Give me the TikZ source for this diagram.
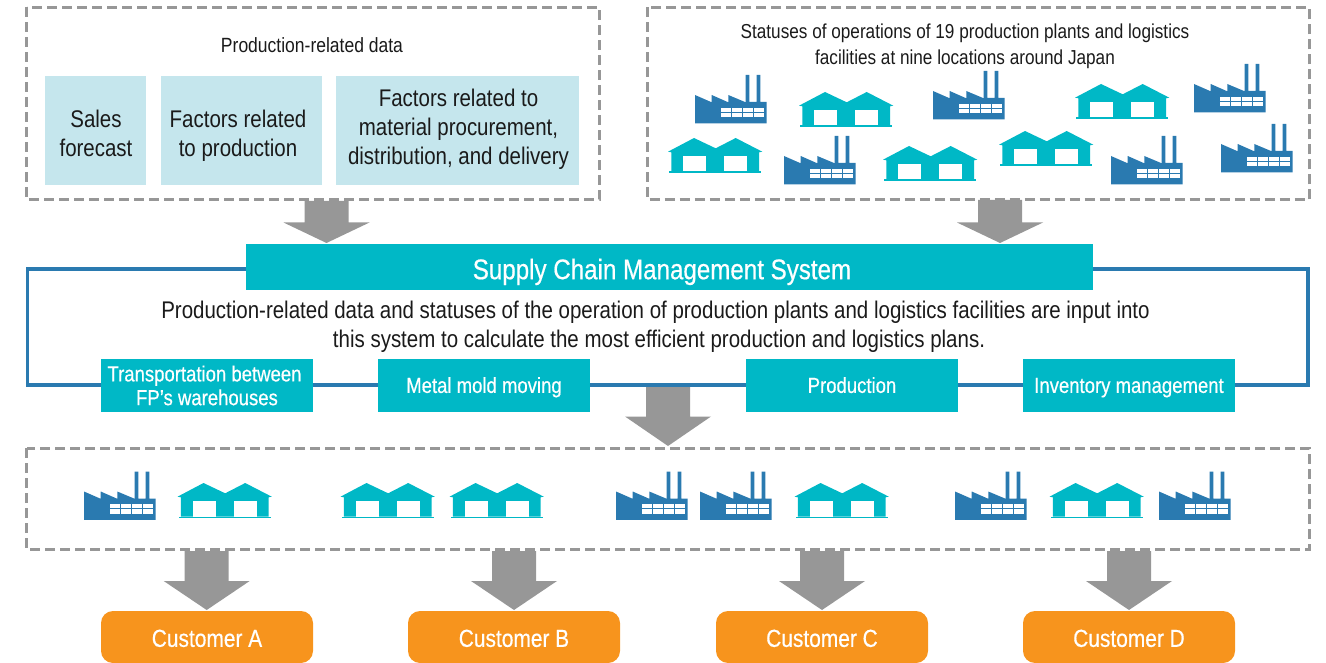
\documentclass[tikz,border=0pt]{standalone}
\usepackage{fontspec}
\setmainfont[FakeStretch=0.85]{Liberation Sans}
\newfontfamily\medfont[FakeStretch=0.85,FakeBold=0.5]{Liberation Sans}
\definecolor{teal}{HTML}{00B8C6}
\definecolor{fblue}{HTML}{2A7AB0}
\definecolor{lblue}{HTML}{C5E6ED}
\definecolor{agrey}{HTML}{979797}
\definecolor{orng}{HTML}{F7941D}
\definecolor{ink}{HTML}{1A1A1A}
\newcommand{\fs}[1]{\fontsize{#1}{#1}\selectfont}
\tikzset{
 x=1pt,y=-1pt,
 dashbox/.style={draw=agrey,line width=3pt,dash pattern=on 10pt off 5pt},
 lightbox/.style={fill=lblue,inner sep=0pt},
 lighttext/.style={align=center,text=ink,inner sep=0pt,font=\fs{24.1}},
 tealbox/.style={fill=teal,inner sep=0pt,align=center,text=white,font=\medfont\fs{21.8},minimum width=212pt,minimum height=53pt},
 tealone/.style={tealbox,text height=14.8pt,text depth=0pt},
 custbox/.style={fill=orng,rounded corners=12pt,inner sep=0pt,align=center,text=white,font=\medfont\fs{24.6},minimum width=212pt,minimum height=52pt,text height=19.7pt,text depth=0pt},
 caption/.style={align=center,text=ink,inner sep=0pt},
 pics/factory/.style={code={
  \fill[fblue] (0,20)--(16.7,27.3)--(16.7,20)--(33.3,27.3)--(33.3,20)--(50.7,27.3)--(50.7,0)--(54.3,0)--(54.3,27)--(61.7,27)--(61.7,0)--(65.3,0)--(65.3,27)--(71.7,27)--(71.7,48.3)--(0,48.3)--cycle;
  \foreach \wx in {25.7,36.7,47.7,58.7}{
    \fill[white] (\wx,32.7) rectangle ++(10,4);
    \fill[white] (\wx,37.7) rectangle ++(10,4.3);
  }
 }},
 pics/warehouse/.style={code={
  \fill[teal] (0,13.7)--(26,0)--(47.7,10.3)--(67.7,0)--(94.3,13.7)--(91,14.3)--(91,33.7)--(3.3,33.7)--(3.3,14.3)--cycle;
  \fill[teal] (1,33.5)rectangle(93.3,35);
  \fill[white] (15,18)rectangle(38.3,33.5);
  \fill[white] (56,18)rectangle(79.3,33.5);
 }},
 pics/bigarrow/.style 2 args={code={
  \fill[agrey] (-22,0)--(22,0)--(22,#1-#2)--(43,#1-#2)--(0,#1)--(-43,#1-#2)--(-22,#1-#2)--cycle;
 }},
}
\begin{document}
\begin{tikzpicture}
\useasboundingbox (0,0) rectangle (1326,663);
% dashed frames
\draw[dashbox] (26.5,7.5) rectangle (599,200);
\draw[dashbox] (647,7.5) rectangle (1309,200);
\draw[dashbox] (26.5,448) rectangle (1309,549.5);
% big arrows
\pic at (326.5,201) {bigarrow={42}{20.5}};
\pic at (1000,200) {bigarrow={43}{20.5}};
\pic at (668,387) {bigarrow={59}{29.5}};
\pic at (206.7,551) {bigarrow={59}{29}};
\pic at (514,551) {bigarrow={59}{29}};
\pic at (822,551) {bigarrow={59}{29}};
\pic at (1129,551) {bigarrow={59}{29}};
% blue frame
\draw[fblue,line width=3.5pt] (246,269) -- (27.5,269) -- (27.5,385) -- (1308,385) -- (1308,269) -- (1093,269);
% top-left panel
\node[caption,font=\fs{20.6}] (prodtitle) at (312,45.5) {Production-related data};
\node[lightbox,minimum width=101pt,minimum height=109pt] (salesbox) at (95.5,130.5) {};
\node[lightbox,minimum width=161pt,minimum height=109pt] (factorsbox) at (241.5,130.5) {};
\node[lightbox,minimum width=243pt,minimum height=109pt] (materialbox) at (457.5,130.5) {};
\node[lighttext] (sales) at (96,133.5) {Sales\\[5pt]forecast};
\node[lighttext] (factors) at (238,135.5) {Factors related\\[5pt]to production};
\node[lighttext] (material) at (458.5,129) {Factors related to\\[5pt]material procurement,\\[5pt]distribution, and delivery};
% top-right panel
\node[caption,font=\fs{20.2}] (status) at (965,46) {Statuses of operations of 19 production plants and logistics\\[6pt]facilities at nine locations around Japan};
\pic at (695,75) {factory};
\pic at (933,71) {factory};
\pic at (1194,64) {factory};
\pic at (784,136) {factory};
\pic at (1111,136) {factory};
\pic at (1221,124) {factory};
\pic at (799,92) {warehouse};
\pic at (1075,84) {warehouse};
\pic at (668,138) {warehouse};
\pic at (883,146) {warehouse};
\pic at (999,131) {warehouse};
% system
\node[fill=teal,inner sep=0pt,minimum width=847pt,minimum height=46pt,text=white,font=\medfont\fs{28.4},text height=24.4pt,text depth=0pt] (scm) at (669.5,267) {Supply Chain Management System\hspace*{15pt}};
\node[caption,font=\fs{24.1}] (desc) at (655.5,326.5) {Production-related data and statuses of the operation of production plants and logistics facilities are input into\\[5pt]\hspace*{7pt}this system to calculate the most efficient production and logistics plans.};
\node[tealbox] (transp) at (207,385.5) {Transportation between\hspace*{5pt}\\[2pt]FP’s warehouses};
\node[tealone] (mold) at (484,385.5) {Metal mold moving};
\node[tealone] (prod) at (852,385.5) {Production};
\node[tealone] (inv) at (1129,385.5) {Inventory management};
% lower panel
\pic at (84,471.5) {factory};
\pic at (616,471.5) {factory};
\pic at (700,471.5) {factory};
\pic at (955,471.5) {factory};
\pic at (1159,471.5) {factory};
\pic at (177.5,483) {warehouse};
\pic at (340.5,483) {warehouse};
\pic at (449.5,483) {warehouse};
\pic at (794.5,483) {warehouse};
\pic at (1049.5,483) {warehouse};
% customers
\node[custbox] (ca) at (207,637) {Customer A};
\node[custbox] (cb) at (514,637) {Customer B};
\node[custbox] (cc) at (822,637) {Customer C};
\node[custbox] (cd) at (1129,637) {Customer D};
\end{tikzpicture}
\end{document}
